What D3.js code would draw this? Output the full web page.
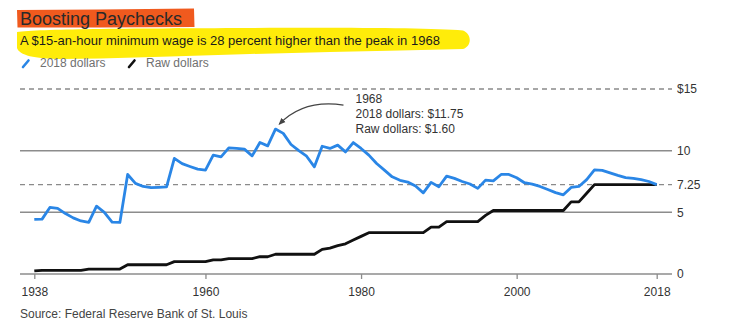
<!DOCTYPE html>
<html><head><meta charset="utf-8">
<script src="https://cdn.jsdelivr.net/npm/d3@7"></script>
<style>
body{margin:0;background:#fff;}
svg text{font-family:"Liberation Sans",Arial,Helvetica,sans-serif;}
</style></head><body>
<svg id="c" width="735" height="331"></svg>
<script>
// ---- data ----
const years = d3.range(1938, 2019);
const realDollars = [
  4.43, 4.45, 5.40, 5.32, 4.90, 4.55, 4.30, 4.18, 5.50, 5.00,
  4.20, 4.18, 8.07, 7.35, 7.10, 7.00, 7.03, 7.07, 9.37, 8.95,
  8.72, 8.50, 8.42, 9.64, 9.50, 10.23, 10.18, 10.12, 9.58, 10.66,
  10.39, 11.75, 11.40, 10.50, 10.00, 9.55, 8.69, 10.36, 10.18, 10.45,
  9.90, 10.66, 10.18, 9.64, 8.96, 8.42, 7.88, 7.60, 7.45, 7.13,
  6.58, 7.43, 7.07, 7.94, 7.75, 7.50, 7.30, 6.94, 7.61, 7.55,
  8.07, 8.07, 7.80, 7.40, 7.29, 7.10, 6.85, 6.60, 6.42, 7.02,
  7.10, 7.65, 8.45, 8.40, 8.20, 8.00, 7.82, 7.75, 7.65, 7.50,
  7.25
];
const rawDollars = [
  0.25, 0.30, 0.30, 0.30, 0.30, 0.30, 0.30, 0.40, 0.40, 0.40,
  0.40, 0.40, 0.75, 0.75, 0.75, 0.75, 0.75, 0.75, 1.00, 1.00,
  1.00, 1.00, 1.00, 1.15, 1.15, 1.25, 1.25, 1.25, 1.25, 1.40,
  1.40, 1.60, 1.60, 1.60, 1.60, 1.60, 1.60, 2.00, 2.10, 2.30,
  2.45, 2.75, 3.05, 3.35, 3.35, 3.35, 3.35, 3.35, 3.35, 3.35,
  3.35, 3.80, 3.80, 4.25, 4.25, 4.25, 4.25, 4.25, 4.75, 5.15,
  5.15, 5.15, 5.15, 5.15, 5.15, 5.15, 5.15, 5.15, 5.15, 5.85,
  5.85, 6.55, 7.25, 7.25, 7.25, 7.25, 7.25, 7.25, 7.25, 7.25,
  7.25
];
const yTicks = [0, 5, 7.25, 10, 15];
const yTickLabels = ["0", "5", "7.25", "10", "$15"];
const dashedTicks = [7.25, 15];
const xTicks = [1938, 1960, 1980, 2000, 2018];
const seriesNames = ["2018 dollars", "Raw dollars"];
const seriesColors = ["#2a86e6", "#111111"];
const titleText = "Boosting Paychecks";
const subtitleText = "A $15-an-hour minimum wage is 28 percent higher than the peak in 1968";
const sourceText = "Source: Federal Reserve Bank of St. Louis";
const noteLines = ["1968", "2018 dollars: $11.75", "Raw dollars: $1.60"];

// ---- layout ----
const svg = d3.select("#c");
const x = d3.scaleLinear().domain([1938, 2018]).range([34.3, 656.7]);
const y = d3.scaleLinear().domain([0, 15]).range([274, 89]);
const gridL = 20, gridR = 672;

// highlights
svg.append("path")
  .attr("d", "M17,32 C40,29 120,28.5 250,28 C350,27.5 430,28 463,30.5 C472,34 472,46 463,49 L400,50.5 L330,52 L250,54 L170,56.5 L100,58.5 L60,59 C35,59 19,55 17,48 Z")
  .attr("fill", "#ffec0a");
svg.append("path")
  .attr("d", "M17,10 L100,9.5 L194,8.5 L194.5,27 L100,27.5 L17.5,27.5 Z")
  .attr("fill", "#f05a1e");

svg.append("text").attr("x", 20).attr("y", 25).attr("font-size", 18)
  .attr("fill", "#2a2a2a").text(titleText);
svg.append("text").attr("x", 20).attr("y", 45).attr("font-size", 13)
  .attr("fill", "#1a1a1a").text(subtitleText);

// legend
const legX = [22, 128];
seriesNames.forEach((n, i) => {
  svg.append("line").attr("x1", legX[i] + 1).attr("y1", 67).attr("x2", legX[i] + 6.5).attr("y2", 60.5)
    .attr("stroke", seriesColors[i]).attr("stroke-width", 2.6).attr("stroke-linecap", "round");
  svg.append("text").attr("x", legX[i] + 18).attr("y", 67).attr("font-size", 12)
    .attr("fill", "#707070").text(n);
});

// grid lines
yTicks.forEach((t, i) => {
  const dashed = dashedTicks.includes(t);
  svg.append("line").attr("x1", gridL).attr("x2", gridR)
    .attr("y1", y(t)).attr("y2", y(t))
    .attr("stroke", dashed ? "#8a8a8a" : "#8c8c8c")
    .attr("stroke-width", dashed ? 1.3 : 1.5)
    .attr("stroke-dasharray", dashed ? "5,4" : null);
  svg.append("text").attr("x", 677).attr("y", y(t)).attr("dy", "0.36em")
    .attr("font-size", 12).attr("fill", "#333").text(yTickLabels[i]);
});

// x axis ticks
const xAxis = d3.axisBottom(x).tickValues(xTicks).tickFormat(d3.format("d")).tickSize(5).tickPadding(8);
const gx = svg.append("g").attr("transform", `translate(0,${y(0)})`).call(xAxis);
gx.select(".domain").remove();
gx.selectAll(".tick line").attr("stroke", "#8c8c8c").attr("stroke-width", 1.3);
gx.selectAll(".tick text").attr("font-size", 12).attr("fill", "#333")
  .attr("font-family", "Liberation Sans, Arial, sans-serif");

// series
const line = d3.line().x((d, i) => x(years[i])).y(d => y(d));
svg.append("path").datum(rawDollars).attr("d", line)
  .attr("fill", "none").attr("stroke", seriesColors[1]).attr("stroke-width", 2.8)
  .attr("stroke-linejoin", "round");
svg.append("path").datum(realDollars).attr("d", line)
  .attr("fill", "none").attr("stroke", seriesColors[0]).attr("stroke-width", 2.8)
  .attr("stroke-linejoin", "round");

// annotation
const peakIdx = d3.maxIndex(realDollars);
const px = x(years[peakIdx]), py = y(realDollars[peakIdx]);
const tx = px + 80, ty = py - 26;
noteLines.forEach((s, i) => {
  svg.append("text").attr("x", tx).attr("y", ty + i * 15).attr("font-size", 12)
    .attr("fill", "#333").text(s);
});
svg.append("defs").append("marker").attr("id", "ah").attr("viewBox", "0 0 10 10")
  .attr("refX", 8).attr("refY", 5).attr("markerWidth", 6).attr("markerHeight", 6)
  .attr("orient", "auto")
  .append("path").attr("d", "M0,1 L10,5 L0,9 Z").attr("fill", "#444");
const sx = tx - 12, sy = ty + 2, ex = px + 4, ey = py - 5;
svg.append("path")
  .attr("d", `M${sx},${sy} Q${(sx + ex) / 2 - 8},${sy - 6} ${ex},${ey}`)
  .attr("fill", "none").attr("stroke", "#444").attr("stroke-width", 1.2)
  .attr("marker-end", "url(#ah)");

// source
svg.append("text").attr("x", 20).attr("y", 318).attr("font-size", 12)
  .attr("fill", "#444").text(sourceText);
</script>
</body></html>
